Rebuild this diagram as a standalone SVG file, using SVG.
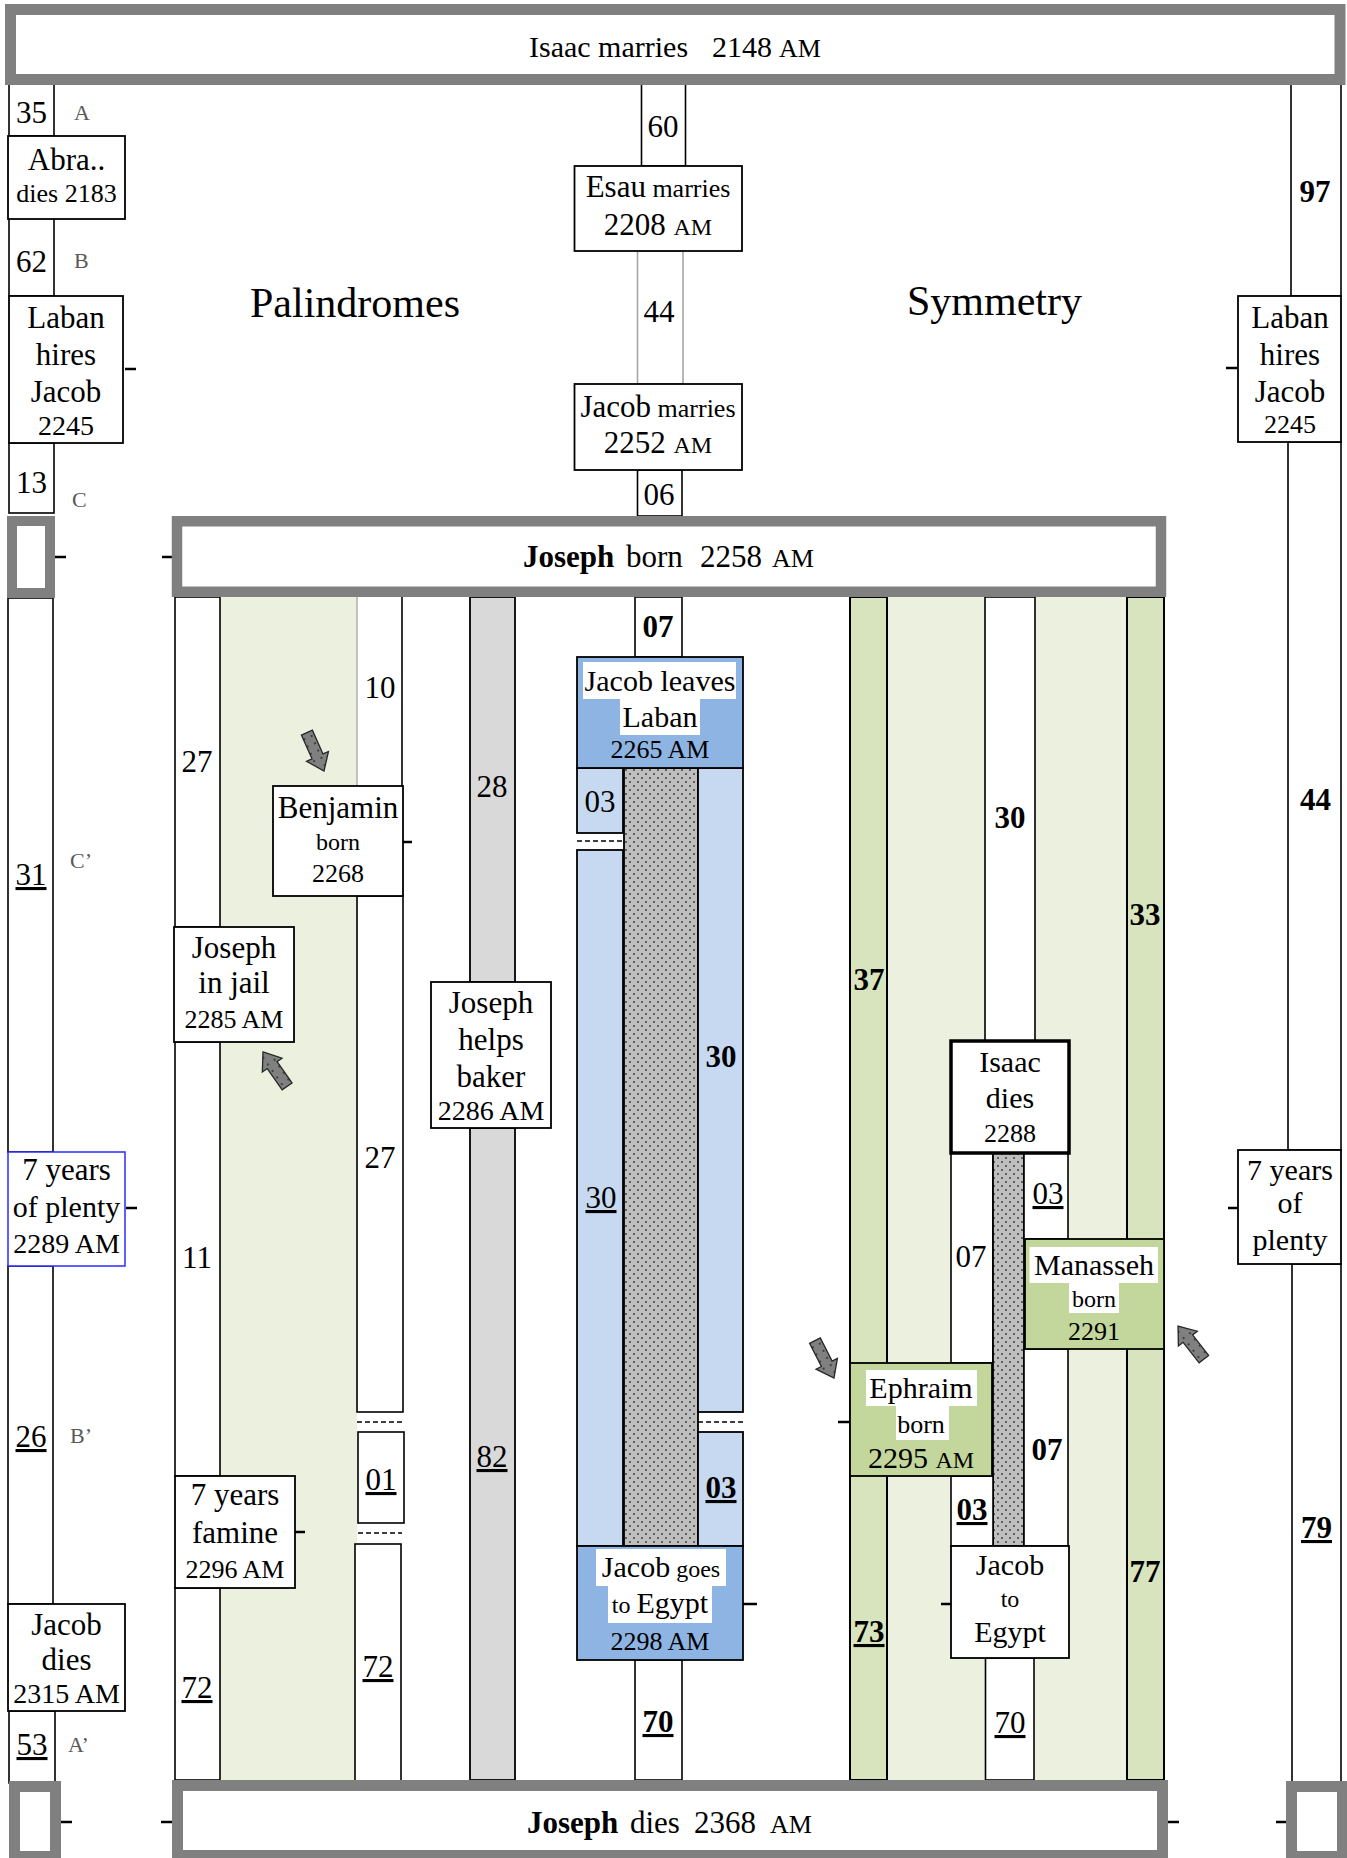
<svg xmlns="http://www.w3.org/2000/svg" width="1347" height="1858" viewBox="0 0 1347 1858">
<defs>
<style>
text{font-family:"Liberation Serif","Times New Roman",serif;fill:#000}
.m{text-anchor:middle}
.f31{font-size:31px}
.f30{font-size:30px}
.f28{font-size:28px}
.f26{font-size:26px}
.f24{font-size:24px}
.f42{font-size:42px}
.bd{font-weight:bold}
.u{text-decoration:underline}
.lab{font-size:22px;fill:#595959}
.box{fill:#fff;stroke:#000;stroke-width:1.8}
.frame{fill:#fff;stroke:#808080}
.strip{fill:#fff;stroke:#000;stroke-width:1.6}
.tick{stroke:#000;stroke-width:2.5}
.dash{stroke:#000;stroke-width:1.5;stroke-dasharray:5 3;fill:none}
.lb{fill:#c6d9f1;stroke:#000;stroke-width:1.8}
.db{fill:#8eb4e3;stroke:#000;stroke-width:1.8}
.gb{fill:#c3d69b;stroke:#000;stroke-width:1.8}
.dg{fill:#d7e4bd;stroke:#000;stroke-width:2}
.lg{fill:#ebf1de}
.gr{fill:#d9d9d9;stroke:#000;stroke-width:1.8}
.dot{fill:url(#dots);stroke:#000;stroke-width:1.8}
.hl{fill:#fff}
.arr{fill:url(#adots);stroke:#262626;stroke-width:1.3}
</style>
<pattern id="dots" width="8" height="8" patternUnits="userSpaceOnUse">
<rect width="8" height="8" fill="#bfbfbf"/>
<circle cx="2" cy="2" r="0.9" fill="#333"/>
<circle cx="6" cy="6" r="0.9" fill="#333"/>
</pattern>
<pattern id="adots" width="8" height="8" patternUnits="userSpaceOnUse">
<rect width="8" height="8" fill="#808080"/>
<circle cx="3" cy="3" r="0.9" fill="#222"/>
</pattern>
<polygon id="arrow" points="-6,-42 6,-42 6,-16 12,-16 0,0 -12,-16 -6,-16"/>
</defs>
<rect width="1347" height="1858" fill="#fff"/>

<!-- section backgrounds -->
<g id="backgrounds">
<rect x="220" y="597" width="137" height="1183" class="lg"/>
<rect x="887" y="597" width="98" height="1183" class="lg"/>
<rect x="1035" y="597" width="92" height="1183" class="lg"/>
<rect x="850" y="597" width="37" height="1183" class="dg"/>
<rect x="1127" y="597" width="37" height="1183" class="dg"/>
</g>

<g id="connectors">
<!-- left strip -->
<rect x="9" y="84" width="45" height="52" class="strip"/>
<rect x="9" y="218" width="45" height="78" class="strip"/>
<rect x="9" y="443" width="45" height="70" class="strip"/>
<rect x="8" y="598" width="45" height="554" class="strip"/>
<rect x="8" y="1266" width="45" height="338" class="strip"/>
<rect x="9" y="1711" width="46" height="72" class="strip"/>
<text x="31.5" y="123" class="m f31">35</text>
<text x="74" y="120" class="lab">A</text>
<text x="31.5" y="272" class="m f31">62</text>
<text x="74" y="268" class="lab">B</text>
<text x="31.5" y="493" class="m f31">13</text>
<text x="72" y="507" class="lab">C</text>
<text x="31" y="885" class="m f31 u">31</text>
<text x="70" y="868" class="lab">C’</text>
<text x="31" y="1447" class="m f31 u">26</text>
<text x="70" y="1443" class="lab">B’</text>
<text x="32" y="1755" class="m f31 u">53</text>
<text x="68" y="1752" class="lab">A’</text>

<!-- right strip -->
<rect x="1291" y="84" width="50" height="212" class="strip"/>
<rect x="1288" y="442" width="53" height="708" class="strip"/>
<rect x="1292" y="1264" width="49" height="518" class="strip"/>
<text x="1315" y="202" class="m f31 bd">97</text>
<text x="1315.5" y="810" class="m f31 bd">44</text>
<text x="1316.5" y="1538" class="m f31 bd u">79</text>

<!-- center top strips -->
<rect x="641.5" y="84" width="44" height="82" class="strip"/>
<text x="663" y="137" class="m f31">60</text>
<rect x="637.5" y="251" width="45.5" height="133" fill="#fff" stroke="#a6a6a6" stroke-width="1.6"/>
<text x="659" y="322" class="m f31">44</text>
<rect x="637.5" y="470" width="44.5" height="46" class="strip"/>
<text x="659" y="505" class="m f31">06</text>
<rect x="635" y="597" width="47" height="60" class="strip"/>
<text x="658" y="637" class="m f31 bd">07</text>
<rect x="635" y="1660" width="47" height="120" class="strip"/>
<text x="658" y="1732" class="m f31 bd u">70</text>

<!-- palindromes strips -->
<rect x="175" y="597" width="45" height="330" class="strip"/>
<rect x="175" y="1042" width="45" height="434" class="strip"/>
<rect x="175" y="1588" width="45" height="192" class="strip"/>
<text x="197" y="772" class="m f31">27</text>
<text x="197" y="1268" class="m f31">11</text>
<text x="197" y="1698" class="m f31 u">72</text>
<rect x="357" y="597" width="45" height="189" fill="#fff"/>
<line x1="357" y1="597" x2="357" y2="786" stroke="#8c8c8c" stroke-width="1"/>
<line x1="402" y1="597" x2="402" y2="786" stroke="#000" stroke-width="1.6"/>
<text x="380" y="698" class="m f31">10</text>
<rect x="357" y="896" width="46" height="516" class="strip"/>
<text x="380" y="1168" class="m f31">27</text>
<line x1="357" y1="1422" x2="403" y2="1422" class="dash"/>
<rect x="358" y="1432" width="46" height="91" class="strip"/>
<text x="381" y="1490" class="m f31 u">01</text>
<line x1="358" y1="1533" x2="402" y2="1533" class="dash"/>
<rect x="355" y="1544" width="46" height="241" class="strip"/>
<text x="378" y="1677" class="m f31 u">72</text>
<rect x="470" y="597" width="45" height="385" class="gr"/>
<rect x="470" y="1128" width="45" height="652" class="gr"/>
<text x="492" y="797" class="m f31">28</text>
<text x="492" y="1467" class="m f31 u">82</text>

<!-- blue / dotted section -->
<rect x="577" y="768" width="46" height="65" class="lb"/>
<text x="600" y="812" class="m f31">03</text>
<line x1="577" y1="841" x2="623" y2="841" class="dash"/>
<rect x="577" y="850" width="46" height="696" class="lb"/>
<text x="601" y="1208" class="m f31 u">30</text>
<rect x="624" y="768" width="74" height="778" class="dot"/>
<rect x="698" y="768" width="45" height="644" class="lb"/>
<text x="721" y="1067" class="m f31 bd">30</text>
<line x1="698" y1="1422" x2="746" y2="1422" class="dash"/>
<rect x="698" y="1432" width="45" height="114" class="lb"/>
<text x="721" y="1498" class="m f31 bd u">03</text>

<!-- symmetry strips -->
<rect x="985" y="597" width="50" height="444" class="strip"/>
<text x="1010" y="828" class="m f31 bd">30</text>
<text x="869" y="990" class="m f31 bd">37</text>
<text x="1145" y="925" class="m f31 bd">33</text>
<rect x="951" y="1153" width="42" height="210" class="strip"/>
<text x="971" y="1267" class="m f31">07</text>
<rect x="993" y="1153" width="31" height="393" class="dot"/>
<rect x="1024" y="1153" width="44" height="86" class="strip"/>
<text x="1048" y="1204" class="m f31 u">03</text>
<rect x="1024" y="1349" width="44" height="197" class="strip"/>
<text x="1047" y="1460" class="m f31 bd">07</text>
<rect x="951" y="1476" width="42" height="70" class="strip"/>
<text x="972" y="1520" class="m f31 bd u">03</text>
<text x="869" y="1642" class="m f31 bd u">73</text>
<text x="1145" y="1582" class="m f31 bd">77</text>
<rect x="985.5" y="1658" width="48.5" height="122" class="strip"/>
<text x="1010" y="1733" class="m f31 u">70</text>

<!-- ticks -->
<line x1="125" y1="369" x2="136" y2="369" class="tick"/>
<line x1="1226" y1="368" x2="1237" y2="368" class="tick"/>
<line x1="55" y1="557" x2="66" y2="557" class="tick"/>
<line x1="162" y1="557" x2="172" y2="557" class="tick"/>
<line x1="403" y1="842" x2="412" y2="842" class="tick"/>
<line x1="126" y1="1208" x2="137" y2="1208" class="tick"/>
<line x1="1228" y1="1208" x2="1238" y2="1208" class="tick"/>
<line x1="295" y1="1532" x2="305" y2="1532" class="tick"/>
<line x1="838" y1="1422" x2="849" y2="1422" class="tick"/>
<line x1="743" y1="1604" x2="757" y2="1604" class="tick"/>
<line x1="941" y1="1604" x2="951" y2="1604" class="tick"/>
<line x1="61" y1="1822" x2="72" y2="1822" class="tick"/>
<line x1="161" y1="1822" x2="172" y2="1822" class="tick"/>
<line x1="1168" y1="1822" x2="1179" y2="1822" class="tick"/>
<line x1="1276" y1="1822" x2="1286" y2="1822" class="tick"/>
</g>

<!-- frames -->
<g id="isaac-marries">
<rect x="10.5" y="9.5" width="1329.5" height="70" class="frame" stroke-width="11"/>
<text y="57" class="f30"><tspan x="529">Isaac marries</tspan><tspan x="712">2148</tspan><tspan x="779" class="f26">AM</tspan></text>
</g>
<g id="frame-left-top"><rect x="12" y="521" width="38" height="72" class="frame" stroke-width="10"/></g>
<g id="joseph-born">
<rect x="177" y="521.25" width="984" height="70.5" class="frame" stroke-width="10.5"/>
<text y="567" class="f31"><tspan x="523" class="bd">Joseph</tspan><tspan x="626">born</tspan><tspan x="700">2258</tspan><tspan x="772" class="f26">AM</tspan></text>
</g>
<g id="frame-left-bottom"><rect x="14.5" y="1786.5" width="41" height="70" class="frame" stroke-width="11"/></g>
<g id="joseph-dies">
<rect x="177.5" y="1785.5" width="985" height="70" class="frame" stroke-width="11"/>
<text y="1833" class="f31"><tspan x="527" class="bd">Joseph</tspan><tspan x="630">dies</tspan><tspan x="694">2368</tspan><tspan x="770" class="f26">AM</tspan></text>
</g>
<g id="frame-right-bottom"><rect x="1291.5" y="1786.5" width="51" height="70" class="frame" stroke-width="11"/></g>

<!-- left column nodes -->
<g id="abraham-dies">
<rect x="8" y="136" width="117" height="83" class="box"/>
<text x="66.5" y="170" class="m f31">Abra..</text>
<text x="66.5" y="202" class="m f26">dies 2183</text>
</g>
<g id="laban-hires-left">
<rect x="9" y="296" width="114" height="147" class="box"/>
<text x="66" y="328" class="m f31">Laban</text>
<text x="66" y="365" class="m f31">hires</text>
<text x="66" y="402" class="m f31">Jacob</text>
<text x="66" y="435" class="m f28">2245</text>
</g>
<g id="plenty-left">
<rect x="8" y="1152" width="117" height="114" fill="#fff" stroke="#2b2bff" stroke-width="1.5"/>
<text x="66.5" y="1180" class="m f31">7 years</text>
<text x="66.5" y="1217" class="m f30">of plenty</text>
<text x="66.5" y="1253" class="m f28">2289 AM</text>
</g>
<g id="jacob-dies">
<rect x="8" y="1604" width="117" height="107" class="box"/>
<text x="66.5" y="1635" class="m f31">Jacob</text>
<text x="66.5" y="1670" class="m f31">dies</text>
<text x="66.5" y="1703" class="m f28">2315 AM</text>
</g>

<!-- right column nodes -->
<g id="laban-hires-right">
<rect x="1238" y="296" width="103" height="146" class="box"/>
<text x="1290" y="328" class="m f31">Laban</text>
<text x="1290" y="365" class="m f31">hires</text>
<text x="1290" y="402" class="m f31">Jacob</text>
<text x="1290" y="433" class="m f26">2245</text>
</g>
<g id="plenty-right">
<rect x="1238" y="1150" width="103" height="114" class="box"/>
<text x="1290" y="1180" class="m f30">7 years</text>
<text x="1290" y="1213" class="m f30">of</text>
<text x="1290" y="1250" class="m f30">plenty</text>
</g>

<!-- center top nodes -->
<g id="esau-marries">
<rect x="574.5" y="166" width="167.5" height="85" class="box"/>
<text x="658" y="197" class="m f31">Esau<tspan class="f26"> marries</tspan></text>
<text x="658" y="235" class="m f31">2208 <tspan class="f24">AM</tspan></text>
</g>
<g id="jacob-marries">
<rect x="574.5" y="384" width="167.5" height="86" class="box"/>
<text x="658" y="417" class="m f31">Jacob<tspan class="f26"> marries</tspan></text>
<text x="658" y="453" class="m f31">2252 <tspan class="f24">AM</tspan></text>
</g>

<!-- headings -->
<text x="250" y="317" class="f42">Palindromes</text>
<text x="907" y="315" class="f42">Symmetry</text>

<!-- palindromes nodes -->
<g id="benjamin-born">
<rect x="273" y="786" width="130" height="110" class="box"/>
<text x="338" y="818" class="m f31">Benjamin</text>
<text x="338" y="850" class="m f24">born</text>
<text x="338" y="882" class="m f26">2268</text>
</g>
<g id="joseph-jail">
<rect x="174" y="927" width="120" height="115" class="box"/>
<text x="234" y="958" class="m f31">Joseph</text>
<text x="234" y="993" class="m f31">in jail</text>
<text x="234" y="1028" class="m f26">2285 AM</text>
</g>
<g id="famine">
<rect x="175" y="1476" width="120" height="112" class="box"/>
<text x="235" y="1505" class="m f31">7 years</text>
<text x="235" y="1543" class="m f31">famine</text>
<text x="235" y="1578" class="m f26">2296 AM</text>
</g>
<g id="joseph-baker">
<rect x="431" y="982" width="120" height="146" class="box"/>
<text x="491" y="1013" class="m f31">Joseph</text>
<text x="491" y="1050" class="m f31">helps</text>
<text x="491" y="1087" class="m f31">baker</text>
<text x="491" y="1120" class="m f28">2286 AM</text>
</g>

<!-- blue nodes -->
<g id="jacob-leaves">
<rect x="577" y="657" width="166" height="111" class="db"/>
<rect x="583" y="662" width="153" height="37" class="hl"/>
<rect x="620" y="699" width="80" height="36" class="hl"/>
<text x="660" y="691" class="m f30">Jacob leaves</text>
<text x="660" y="727" class="m f30">Laban</text>
<text x="660" y="758" class="m f26">2265 AM</text>
</g>
<g id="jacob-goes">
<rect x="577" y="1546" width="166" height="114" class="db"/>
<rect x="596" y="1549" width="130" height="37" class="hl"/>
<rect x="608" y="1586" width="104" height="37" class="hl"/>
<text x="661" y="1577" class="m f30">Jacob<tspan class="f24"> goes</tspan></text>
<text x="660" y="1613" class="m f30"><tspan class="f24">to </tspan>Egypt</text>
<text x="660" y="1650" class="m f26">2298 AM</text>
</g>

<!-- symmetry nodes -->
<g id="isaac-dies">
<rect x="951" y="1041" width="118" height="112" fill="#fff" stroke="#000" stroke-width="3.5"/>
<text x="1010" y="1072" class="m f30">Isaac</text>
<text x="1010" y="1108" class="m f30">dies</text>
<text x="1010" y="1142" class="m f26">2288</text>
</g>
<g id="manasseh-born">
<rect x="1025" y="1239" width="139" height="110" class="gb"/>
<rect x="1029.5" y="1247" width="128.5" height="36" class="hl"/>
<rect x="1069" y="1283" width="50" height="30" class="hl"/>
<text x="1094" y="1275" class="m f30">Manasseh</text>
<text x="1094" y="1307" class="m f24">born</text>
<text x="1094" y="1340" class="m f26">2291</text>
</g>
<g id="ephraim-born">
<rect x="850" y="1363" width="142" height="113" class="gb"/>
<rect x="866" y="1370" width="111" height="36" class="hl"/>
<rect x="896" y="1406" width="53" height="34" class="hl"/>
<text x="921" y="1398" class="m f30">Ephraim</text>
<text x="921" y="1433" class="m f26">born</text>
<text x="921" y="1468" class="m f30">2295 <tspan class="f24">AM</tspan></text>
</g>
<g id="jacob-to-egypt">
<rect x="951" y="1546" width="118" height="112" class="box"/>
<text x="1010" y="1575" class="m f30">Jacob</text>
<text x="1010" y="1607" class="m f24">to</text>
<text x="1010" y="1642" class="m f30">Egypt</text>
</g>

<!-- arrows -->
<g id="arrows">
<use href="#arrow" class="arr" transform="translate(324,771) rotate(-24)"/>
<use href="#arrow" class="arr" transform="translate(263,1052) rotate(145)"/>
<use href="#arrow" class="arr" transform="translate(834,1378) rotate(-27)"/>
<use href="#arrow" class="arr" transform="translate(1178,1326) rotate(142)"/>
</g>
</svg>
